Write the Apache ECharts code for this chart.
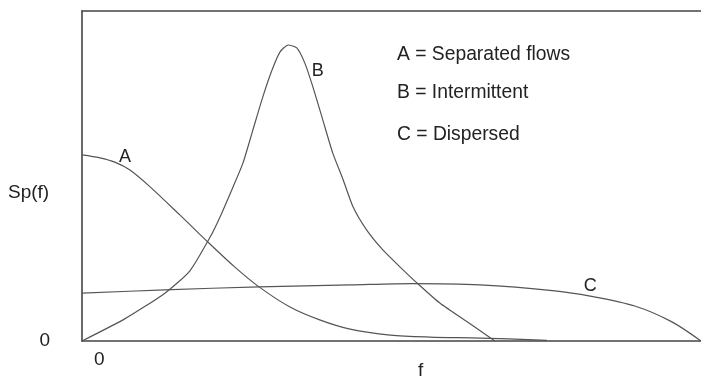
<!DOCTYPE html>
<html>
<head>
<meta charset="utf-8">
<script src="https://cdn.jsdelivr.net/npm/echarts@6/dist/echarts.min.js"></script>
<style>
html,body{margin:0;padding:0;background:#fff;}
#chart{width:701px;height:378px;}
</style>
</head>
<body>
<div id="chart"></div>
<script>
// Curve A: separated flows  [f, Sp(f)]
const curveA = [[0,56.4],[2.9,55.5],[5.3,54.2],[7.75,51.8],[11.0,46.7],[15.8,38.2],[20.5,29.7],[24.7,22.4],[28.6,16.4],[33.6,10.3],[38.4,6.4],[43.3,3.6],[49.8,1.8],[56.2,1.2],[64.3,0.9],[75.1,0.2]];
// Curve B: intermittent
const curveB = [[0,0],[6.9,6.7],[13.4,14.5],[17.4,21.2],[20.7,31.5],[22.3,37.6],[24.4,46.7],[26.0,53.9],[27.6,63.9],[29.2,73.9],[30.7,82.1],[32.0,87.6],[33.3,89.7],[34.7,88.8],[36.0,84.2],[37.3,77.0],[38.9,67.0],[40.5,57.0],[42.2,48.8],[43.8,40.6],[46.0,33.6],[48.6,27.6],[51.4,22.4],[54.1,17.6],[57.8,11.5],[62.7,5.2],[66.7,0]];
// Curve C: dispersed
const curveC = [[0,14.5],[13.4,15.5],[28.6,16.4],[43.3,17.0],[53.5,17.4],[64.3,17.0],[76.4,15.2],[82.1,13.6],[89.3,10.6],[95.3,5.8],[100,0]];
// Curve label positions
const curveNames = ['A','B','C'];
const labelPos = [[6.95,55.8],[38.1,81.8],[82.1,16.7]];
// Tick labels
const xTickLabels = ['0'];
const yTickLabels = ['0'];
// Legend text
const legendLines = ['A = Separated flows','B = Intermittent','C = Dispersed'];
const yName = 'Sp(f)';
const xName = 'f';

const FONT = '"Liberation Sans", Arial, sans-serif';
const TXT = '#222';
const chart = echarts.init(document.getElementById('chart'), null, {renderer:'canvas'});
const curves = [curveA, curveB, curveC];
const smoothness = [0.3, 0.2, 0.3];

const series = curves.map((d,i)=>({
  type:'line', data:d, smooth:smoothness[i], symbol:'none', silent:true,
  lineStyle:{color:'#555', width:1.2},
  markPoint:{
    symbol:'circle', symbolSize:0, silent:true,
    data:[{coord:labelPos[i], value:curveNames[i]}],
    label:{show:true, position:'inside', formatter:curveNames[i], color:TXT, fontFamily:FONT, fontSize:18}
  }
}));

const legendY = [55,93,135];
const graphic = legendLines.map((t,i)=>({
  type:'text', left:397, top:legendY[i]-10,
  style:{text:t, fill:TXT, font:'19.3px '+FONT}
}));
graphic.push({type:'text', left:8, top:183, style:{text:yName, fill:TXT, font:'19px '+FONT}});
graphic.push({type:'text', left:418, top:361, style:{text:xName, fill:TXT, font:'19px '+FONT}});

chart.setOption({
  animation:false,
  grid:{left:82, right:0, top:11, bottom:37, containLabel:false, outerBoundsMode:'none'},
  xAxis:[{
    type:'value', min:0, max:100, interval:100, position:'bottom',
    axisLine:{show:true, lineStyle:{color:'#444', width:1.6}},
    axisTick:{show:false}, splitLine:{show:false},
    axisLabel:{show:true, formatter:(v)=> v===0 ? xTickLabels[0] : '', align:'left', padding:[0,0,0,12],
      margin:9, color:TXT, fontFamily:FONT, fontSize:19}
  },{
    type:'value', min:0, max:100, position:'top',
    axisLine:{show:true, onZero:false, lineStyle:{color:'#444', width:1.6}},
    axisTick:{show:false}, splitLine:{show:false}, axisLabel:{show:false}
  }],
  yAxis:{
    type:'value', min:0, max:100, interval:100,
    axisLine:{show:true, lineStyle:{color:'#444', width:1.6}},
    axisTick:{show:false}, splitLine:{show:false},
    axisLabel:{show:true, formatter:(v)=> v===0 ? yTickLabels[0] : '', margin:32, padding:[0,0,14,0],
      color:TXT, fontFamily:FONT, fontSize:19}
  },
  graphic:graphic,
  series:series
});
</script>
</body>
</html>
